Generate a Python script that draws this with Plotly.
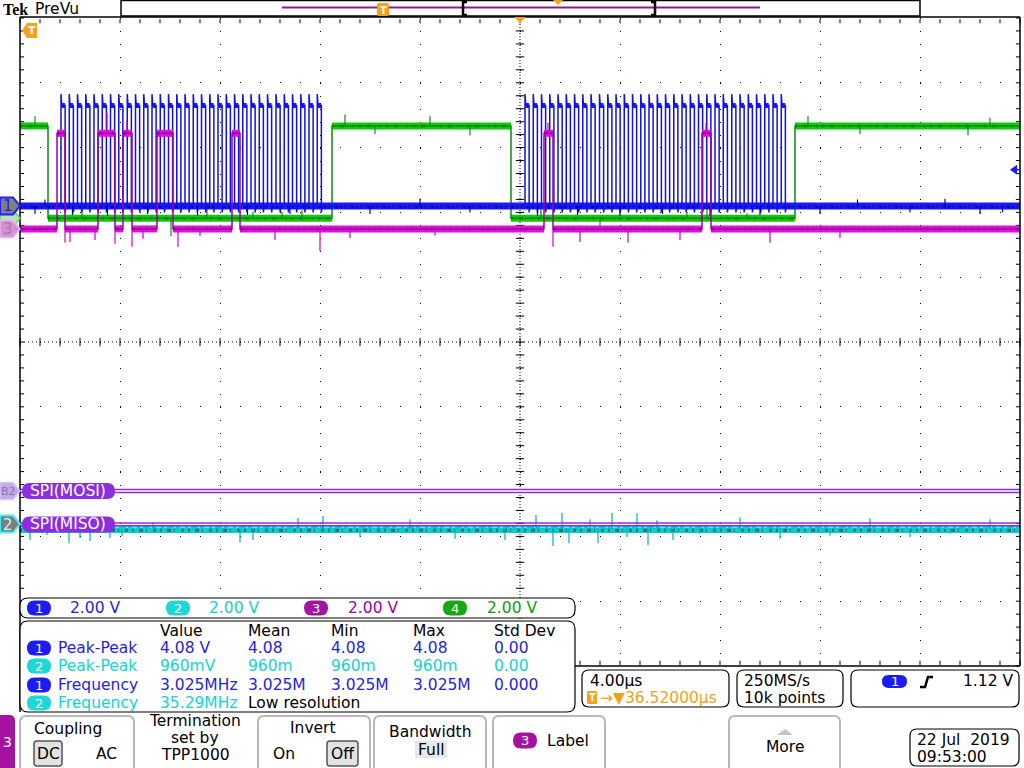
import plotly.graph_objects as go

W, H = 1024, 768

# ---------------- values ----------------
us_per_div = 4.0          # horizontal scale
v_per_div = 2.0           # all four channels

# CH1 (blue, SCLK): rising edges of the two 32-clock bursts, in us
clk_rise_us = [
    -18.36, -18.03, -17.70, -17.37, -17.04, -16.71, -16.38, -16.05,
    -15.71, -15.38, -15.05, -14.72, -14.39, -14.06, -13.73, -13.40,
    -13.07, -12.74, -12.41, -12.08, -11.75, -11.42, -11.09, -10.76,
    -10.43, -10.10, -9.76, -9.43, -9.10, -8.77, -8.44, -8.11,
    0.20, 0.53, 0.86, 1.19, 1.52, 1.85, 2.18, 2.51,
    2.84, 3.18, 3.51, 3.84, 4.17, 4.50, 4.83, 5.16,
    5.49, 5.82, 6.15, 6.48, 6.81, 7.14, 7.47, 7.80,
    8.13, 8.47, 8.80, 9.13, 9.46, 9.79, 10.12, 10.45,
]
clk_high_us = 0.165
clk_low_v, clk_high_v = 0.0, 3.1
clk_under_v, clk_over_v = -0.2, 3.45

# CH4 (green, CS): edges in us, line starts high
cs_edges_us = [-18.88, -7.52, -0.36, 11.00]
cs_low_v, cs_high_v = 0.0, 2.85

# CH3 (magenta, MOSI): high pulses
mosi_start_us = [-18.52, -16.88, -15.88, -14.52, -11.52, 0.96, 7.28]
mosi_end_us = [-18.20, -16.20, -15.52, -13.88, -11.20, 1.32, 7.64]
mosi_low_v, mosi_high_v = 0.0, 2.95

# CH2 (cyan, MISO): flat, noisy
miso_level_v = -0.15

# noise spikes, time (us) and tip (V)
blue_spike_t = [-19.4, -19.0, -17.9, -16.5, -14.9, -12.9, -10.9, -9.2, -6.0, -4.0, -2.0,
                0.7, 2.3, 4.0, 5.7, 7.6, 9.6, 12.0, 13.5, 15.6, 17.0, 18.4, 19.3]
blue_spike_v = [-0.25, 0.2, -0.28, -0.3, -0.25, -0.3, -0.28, -0.25, -0.25, 0.22, -0.2,
                -0.3, -0.28, -0.3, -0.25, -0.3, -0.28, -0.25, 0.2, -0.2, 0.22, -0.25, -0.2]
green_spike_t = [-19.4, -17.52, -13.96, -12.52, -10.68, -9.52, -8.72, -7.0, -5.8, -3.6, -2.0,
                 0.84, 3.2, 6.68, 7.48, 9.08, 11.52, 13.6, 17.92, 18.8]
green_spike_v = [3.15, 0.34, -0.55, 0.43, 0.2, 0.2, 0.25, 3.2, 2.6, 3.15, 2.55,
                 0.3, -0.3, 0.2, 0.45, 0.15, 3.15, 2.6, 2.55, 3.1]
mag_spike_t = [-18.2, -18.0, -17.0, -16.52, -16.2, -15.72, -15.52, -15.08, -13.68, -12.8,
               -9.8, -8.0, -6.8, -3.4, 1.12, 1.32, 2.4, 4.32, 6.4, 7.44, 10.0, 12.8]
mag_spike_v = [-0.43, -0.4, -0.34, 3.58, -0.46, 3.31, -0.55, -0.3, -0.55, -0.22,
               -0.34, -0.68, -0.28, -0.2, 3.27, -0.55, -0.4, -0.43, -0.34, 3.27, -0.43, -0.28]
cyan_spike_t = [-19.6, -18.92, -18.04, -17.6, -17.2, -16.4, -15.92, -14.68, -11.2, -10.68,
                -8.88, -7.88, -6.4, -4.4, -2.6, -0.6, 0.64, 1.32, 1.68, 1.96, 2.8, 3.12,
                3.68, 4.28, 4.68, 5.12, 5.48, 6.12, 7.2, 8.8, 10.4, 12.4, 14.0, 15.6, 17.2, 18.8]
cyan_spike_v = [-0.49, -0.34, -0.59, -0.43, -0.52, -0.43, -0.37, 0.06, -0.56, -0.49,
                0.19, 0.25, -0.4, 0.15, -0.45, -0.5, 0.28, -0.68, 0.34, -0.59, 0.15, -0.59,
                0.34, -0.4, 0.34, -0.65, 0.12, -0.49, -0.3, 0.2, -0.45, -0.35, 0.18, -0.4, -0.3, 0.15]

trig_level_v = 1.12

# channel ground positions (divisions from centre) and bus positions
ch_pos = {1: 2.10, 2: -2.81, 3: 1.745, 4: 1.91}
bus_pos = {"MOSI": -2.30, "MISO": -2.815}

BLUE, CYAN, MAG, GREEN = "#1c1cf0", "#00d0d0", "#e010e0", "#12c812"
ORANGE = "#f7a01c"
BUSC = "#8c2ee0"


def dv(v, ch):
    return ch_pos[ch] + v / v_per_div


def ypx(div):
    return 342 - div * 64.8


def xp(px):
    return px / W


def yp(py):
    return 1 - py / H


def intervals(bounds, first_high):
    out, high = [], first_high
    for t0, t1 in zip(bounds[:-1], bounds[1:]):
        out.append((t0, t1, high))
        high = not high
    return out


def step_xy(ivs, lo, hi):
    xs, ys = [], []
    for t0, t1, h in ivs:
        xs += [t0, t1]
        ys += [hi if h else lo] * 2
    return xs, ys


def band_xy(ivs, lo, hi):
    xs, ys = [], []
    for t0, t1, h in ivs:
        xs += [t0, t1, None]
        ys += [hi if h else lo, hi if h else lo, None]
    return xs, ys


def spike_xy(ts, vs, lo_v, hi_v, ch):
    xs, ys = [], []
    for t, v in zip(ts, vs):
        base = hi_v if v > (lo_v + hi_v) / 2 else lo_v
        xs += [t, t, None]
        ys += [dv(base, ch), dv(v, ch), None]
    return xs, ys


def line_trace(xs, ys, color, width, dash="solid"):
    fig.add_trace(go.Scatter(x=xs, y=ys, mode="lines", hoverinfo="skip",
                             line=dict(color=color, width=width, dash=dash)))


fig = go.Figure()

# ---------------- graticule ticks ----------------
minor_x = [-20 + 0.8 * k for k in range(51)]
minor_y = [-5 + 0.2 * k for k in range(51)]


def add_ticks(x, y, sym, size):
    fig.add_trace(go.Scatter(x=x, y=y, mode="markers", hoverinfo="skip", cliponaxis=False,
                             marker=dict(symbol=sym, size=size, color="black",
                                         line=dict(color="black", width=1))))


add_ticks(minor_x, [0] * 51, "line-ns", 6)
add_ticks([0] * 51, minor_y, "line-ew", 6)
add_ticks(minor_x, [4.95] * 51, "line-ns", 3)
add_ticks(minor_x, [-4.95] * 51, "line-ns", 3)
add_ticks([-19.92] * 51, minor_y, "line-ew", 3)
add_ticks([19.92] * 51, minor_y, "line-ew", 3)

# ---------------- CH2 cyan ----------------
c_lvl = dv(miso_level_v, 2)
line_trace([-20, 20], [c_lvl, c_lvl], CYAN, 8)
line_trace([-20, 20], [c_lvl - 0.02, c_lvl - 0.02], "#007474", 3, "2px,5px,4px,3px,1px,6px,3px,4px")
line_trace([-20, 20], [c_lvl + 0.03, c_lvl + 0.03], "#40f4f4", 2, "3px,7px,2px,4px,5px,3px")
sx, sy = spike_xy(cyan_spike_t, cyan_spike_v, miso_level_v, miso_level_v, 2)
line_trace(sx, sy, "#00b0b0", 1.2)

# ---------------- bus lines ----------------
for name, pos in bus_pos.items():
    for off in (-0.022, 0.022):
        line_trace([-20, 20], [pos + off, pos + off], BUSC, 1.5)

# ---------------- CH4 green (CS) ----------------
g_ivs = intervals([-20] + cs_edges_us + [20], True)
g_lo, g_hi = dv(cs_low_v, 4), dv(cs_high_v, 4)
bx, by = band_xy(g_ivs, g_lo, g_hi)
line_trace(bx, by, GREEN, 7)
line_trace(bx, by, "#067a06", 2.5, "2px,6px,4px,9px,1px,5px")
sx, sy = spike_xy(green_spike_t, green_spike_v, cs_low_v, cs_high_v, 4)
line_trace(sx, sy, "#0a900a", 1.2)
stx, sty = step_xy(g_ivs, g_lo, g_hi)
line_trace(stx, sty, "#0a8f0a", 1.5)

# ---------------- CH1 blue (SCLK) ----------------
lo, hi = dv(clk_low_v, 1), dv(clk_high_v, 1)
ov, un = dv(clk_over_v, 1), dv(clk_under_v, 1)
line_trace([-20, 20], [lo, lo], BLUE, 7)
line_trace([-20, 20], [lo - 0.02, lo - 0.02], "#00008c", 2, "2px,3px,1px,5px,3px,2px")
hx, hy = [], []
for r in clk_rise_us:
    hx += [r + 0.02, r + clk_high_us - 0.01, None]
    hy += [hi, hi, None]
line_trace(hx, hy, BLUE, 5)
cx, cy = [-20], [lo]
for r in clk_rise_us:
    f = r + clk_high_us
    cx += [r, r, r + 0.03, f, f, f + 0.03]
    cy += [lo, ov, hi, hi, un, lo]
cx.append(20)
cy.append(lo)
line_trace(cx, cy, "#1010e8", 1.5)
sx, sy = spike_xy(blue_spike_t, blue_spike_v, clk_low_v, clk_high_v, 1)
line_trace(sx, sy, "#0000c0", 1.2)

# ---------------- CH3 magenta (MOSI) ----------------
m_bounds = [-20]
for s, e in zip(mosi_start_us, mosi_end_us):
    m_bounds += [s, e]
m_bounds.append(20)
m_ivs = intervals(m_bounds, False)
m_lo, m_hi = dv(mosi_low_v, 3), dv(mosi_high_v, 3)
bx, by = band_xy(m_ivs, m_lo, m_hi)
line_trace(bx, by, MAG, 7)
line_trace(bx, by, "#8c008c", 2.5, "3px,4px,1px,6px,2px,3px")
sx, sy = spike_xy(mag_spike_t, mag_spike_v, mosi_low_v, mosi_high_v, 3)
line_trace(sx, sy, "#d000d0", 1.2)
stx, sty = step_xy(m_ivs, m_lo, m_hi)
line_trace(stx, sty, "#a000a0", 1.5)

# ---------------- shapes / text helpers ----------------
shapes, annots = [], []


def P(x, y):
    return f"{xp(x):.5f},{yp(y):.5f}"


def poly(pts, fill, line_color=None, lw=0, layer="above"):
    path = "M" + " L".join(P(x, y) for x, y in pts) + " Z"
    shapes.append(dict(type="path", xref="paper", yref="paper", path=path, fillcolor=fill,
                       line=dict(color=line_color or fill, width=lw), layer=layer))


def rr(x0, y0, x1, y1, r, fill="white", line_color="black", lw=1.2):
    path = (f"M{P(x0 + r, y0)} L{P(x1 - r, y0)} Q{P(x1, y0)} {P(x1, y0 + r)} "
            f"L{P(x1, y1 - r)} Q{P(x1, y1)} {P(x1 - r, y1)} L{P(x0 + r, y1)} "
            f"Q{P(x0, y1)} {P(x0, y1 - r)} L{P(x0, y0 + r)} Q{P(x0, y0)} {P(x0 + r, y0)} Z")
    shapes.append(dict(type="path", xref="paper", yref="paper", path=path, fillcolor=fill,
                       line=dict(color=line_color or fill, width=lw if line_color else 0),
                       layer="above"))


def seg(x0, y0, x1, y1, color="black", width=1.5, dash="solid", layer="above"):
    shapes.append(dict(type="line", xref="paper", yref="paper", x0=xp(x0), y0=yp(y0),
                       x1=xp(x1), y1=yp(y1), line=dict(color=color, width=width, dash=dash),
                       layer=layer))


def txt(x, y, s, color="black", size=15.5, anchor="left", family="DejaVu Sans"):
    annots.append(dict(x=xp(x), y=yp(y), xref="paper", yref="paper", text=s, showarrow=False,
                       xanchor=anchor, yanchor="middle",
                       font=dict(family=family, size=size, color=color)))


def badge(x0, y, n, color, w=24, h=15):
    rr(x0, y - h / 2, x0 + w, y + h / 2, h / 2, fill=color, line_color=None)
    txt(x0 + w / 2, y, n, "white", 13, "center")


# centre cross dotted lines
seg(520, 18, 520, 666, "black", 1, "1px,2px", "below")
seg(20, 342, 1020, 342, "black", 1, "1px,3px", "below")

# graticule border
seg(20, 17, 1020, 17)
seg(20, 17, 20, 712)
seg(1020, 17, 1020, 666)
seg(20, 666, 1020, 666)

# top bar
txt(15, 9, "<b>Tek</b>", "black", 16, "center", "Liberation Serif")
txt(33, 8.5, "PreVu", "black", 15.5)
shapes.append(dict(type="rect", xref="paper", yref="paper", x0=xp(121), x1=xp(920),
                   y0=yp(16), y1=yp(0.5), fillcolor="white",
                   line=dict(color="black", width=1.5), layer="above"))
seg(282, 7.5, 760, 7.5, "#8b1a8b", 2)
shapes.append(dict(type="path", xref="paper", yref="paper",
                   path=f"M{P(467, 2)} L{P(463, 2)} L{P(463, 15)} L{P(467, 15)}",
                   line=dict(color="black", width=2.5), layer="above"))
shapes.append(dict(type="path", xref="paper", yref="paper",
                   path=f"M{P(651, 2)} L{P(655, 2)} L{P(655, 15)} L{P(651, 15)}",
                   line=dict(color="black", width=2.5), layer="above"))
rr(377, 3, 389, 16, 2, fill=ORANGE, line_color=None)
txt(383, 10, "<b>T</b>", "white", 10, "center")
poly([(553, 0), (563, 0), (558, 5)], ORANGE)
poly([(514, 17), (526, 17), (520, 23)], ORANGE)
poly([(22, 30.5), (27, 23), (37, 23), (37, 38), (27, 38)], ORANGE)
txt(31.5, 30.5, "<b>T</b>", "white", 11, "center")


# channel markers on the left
def marker(ch_y, fill, outline, lw, label, tcolor, size=15):
    poly([(0, ch_y - 8.5), (13, ch_y - 8.5), (20, ch_y), (13, ch_y + 8.5), (0, ch_y + 8.5)],
         fill, outline, lw)
    txt(8, ch_y + 0.5, label, tcolor, size, "center")


marker(ypx(ch_pos[4]), "#b6e4b6", "#6fd06f", 1.5, "", "white")
marker(ypx(ch_pos[1]), "#7f7f7f", "#2020ff", 2, "1", "#2020ff")
marker(ypx(ch_pos[3]), "#d690d6", "#e6b8e6", 1.5, "3", "#b070b8")
marker(ypx(bus_pos["MOSI"]), "#c4a8ea", "#d6c4f2", 1.5, "B2", "#8a7aa8", 11)
marker(ypx(ch_pos[2]), "#7f7f7f", "#40f0f0", 2, "2", "#c0fafa")

# bus labels
for name, pos in bus_pos.items():
    yb = ypx(pos)
    rr(22, yb - 8, 115, yb + 8, 8, fill=BUSC, line_color=None)
    txt(28, yb, f"SPI({name})", "white", 15.5)

# trigger level arrow (right edge)
ty = ypx(dv(trig_level_v, 1))
poly([(1010, ty), (1017, ty - 5), (1017, ty + 5)], "#1c1cf0")
seg(1016, ty, 1020, ty, "#1c1cf0", 1.5)

# channel scale readout
rr(20, 598, 575, 618, 8)
scale_x = [(27, 68, "1", BLUE, "#1e1ee6"), (166, 207, "2", "#1ed8d8", "#10d0d0"),
           (304, 346, "3", "#a414a4", "#a000a0"), (443, 485, "4", "#14a814", "#0a9e0a")]
for bx0, tx0, n, bc, tc in scale_x:
    badge(bx0, 608, n, bc)
    txt(tx0, 608, f"{v_per_div:.2f} V", tc)

# measurement table
rr(20, 621, 575, 712, 8)
cols = [158, 246, 329, 411, 492]
for cx0, h in zip(cols, ["Value", "Mean", "Min", "Max", "Std Dev"]):
    txt(cx0, 631, h)
meas_rows = [
    ("1", "Peak-Peak", ["4.08 V", "4.08", "4.08", "4.08", "0.00"]),
    ("2", "Peak-Peak", ["960mV", "960m", "960m", "960m", "0.00"]),
    ("1", "Frequency", ["3.025MHz", "3.025M", "3.025M", "3.025M", "0.000"]),
    ("2", "Frequency", ["35.29MHz", "Low resolution"]),
]
row_y = [648, 666, 685, 703]
for (n, name, vals), ry in zip(meas_rows, row_y):
    col = "#1e1ee6" if n == "1" else "#12d4d4"
    badge(27, ry, n, BLUE if n == "1" else "#1ed8d8")
    txt(56, ry, name, col)
    for cx0, v in zip(cols, vals):
        txt(cx0, ry, v, "black" if v == "Low resolution" else col)

# horizontal / acquisition / trigger readouts
rr(582, 670, 729, 707, 7)
txt(588, 681, "4.00µs")
rr(587, 691, 597, 704, 1.5, fill=ORANGE, line_color=None)
txt(592, 697.5, "<b>T</b>", "white", 10, "center")
txt(598, 698, "→▼36.52000µs", ORANGE)
rr(737, 670, 843, 707, 7)
txt(742, 681, "250MS/s")
txt(742, 698, "10k points")
rr(851, 670, 1019, 707, 7)
badge(882, 681.5, "1", BLUE, 25, 13)
shapes.append(dict(type="path", xref="paper", yref="paper",
                   path=f"M{P(920, 687)} L{P(925, 687)} L{P(928, 677)} L{P(933, 677)}",
                   line=dict(color="black", width=2.5), layer="above"))
txt(1015, 681, f"{trig_level_v:.2f} V", anchor="right")

# bottom menu
rr(-8, 715, 15, 778, 6, fill="#a4129f", line_color=None)
txt(7.5, 742, "3", "white", 14, "center")
for x0, x1 in [(20, 134), (258, 370), (374, 486), (493, 605), (729, 840)]:
    rr(x0, 716, x1, 780, 6, fill="white", line_color="#b8b8b8", lw=2)
txt(68, 729, "Coupling", anchor="center")
rr(34, 741, 62, 766, 3, fill="#e2e2e2", line_color="#555555", lw=1.5)
txt(48, 754, "DC", anchor="center")
txt(106, 754, "AC", anchor="center")
txt(195, 721, "Termination", anchor="center")
txt(195, 738, "set by", anchor="center")
txt(195, 755, "TPP1000", anchor="center")
txt(313, 728, "Invert", anchor="center")
txt(284, 754, "On", anchor="center")
rr(327, 741, 358, 766, 3, fill="#e2e2e2", line_color="#555555", lw=1.5)
txt(342.5, 754, "Off", anchor="center")
txt(430, 732, "Bandwidth", anchor="center")
rr(415, 741, 447, 758, 0.5, fill="#e8e8e8", line_color=None)
txt(431, 749.5, "Full", anchor="center")
badge(513, 740.5, "3", "#a4129f", 24, 16)
txt(545, 740.5, "Label")
poly([(777, 735), (785, 729), (793, 735)], "#c4c4c4")
txt(785, 747, "More", anchor="center")
rr(910, 729, 1019, 766, 7)
txt(915, 740, "22 Jul\u00a0\u00a02019")
txt(915, 757, "09:53:00")

fig.update_layout(
    width=W, height=H,
    margin=dict(l=0, r=0, t=0, b=0),
    paper_bgcolor="white", plot_bgcolor="white",
    showlegend=False,
    xaxis=dict(domain=[20 / W, 1020 / W], range=[-5 * us_per_div, 5 * us_per_div],
               tick0=-20, dtick=us_per_div, showgrid=True, gridcolor="black", gridwidth=1,
               griddash="1px,11.96px", zeroline=False, showticklabels=False, ticks="",
               showline=False, fixedrange=True),
    yaxis=dict(domain=[1 - 666 / H, 1 - 18 / H], range=[-5, 5], tick0=-5, dtick=1,
               showgrid=True, gridcolor="black", gridwidth=1, griddash="1px,19px",
               zeroline=False, showticklabels=False, ticks="", showline=False,
               fixedrange=True),
    shapes=shapes,
    annotations=annots,
)

# the page gets the browser's default body margin; drop it so the 1024x768 figure fills the window
fig.write_html("out.html", config={"displayModeBar": False},
               post_script="document.body.style.margin='0';document.body.style.overflow='hidden';")
